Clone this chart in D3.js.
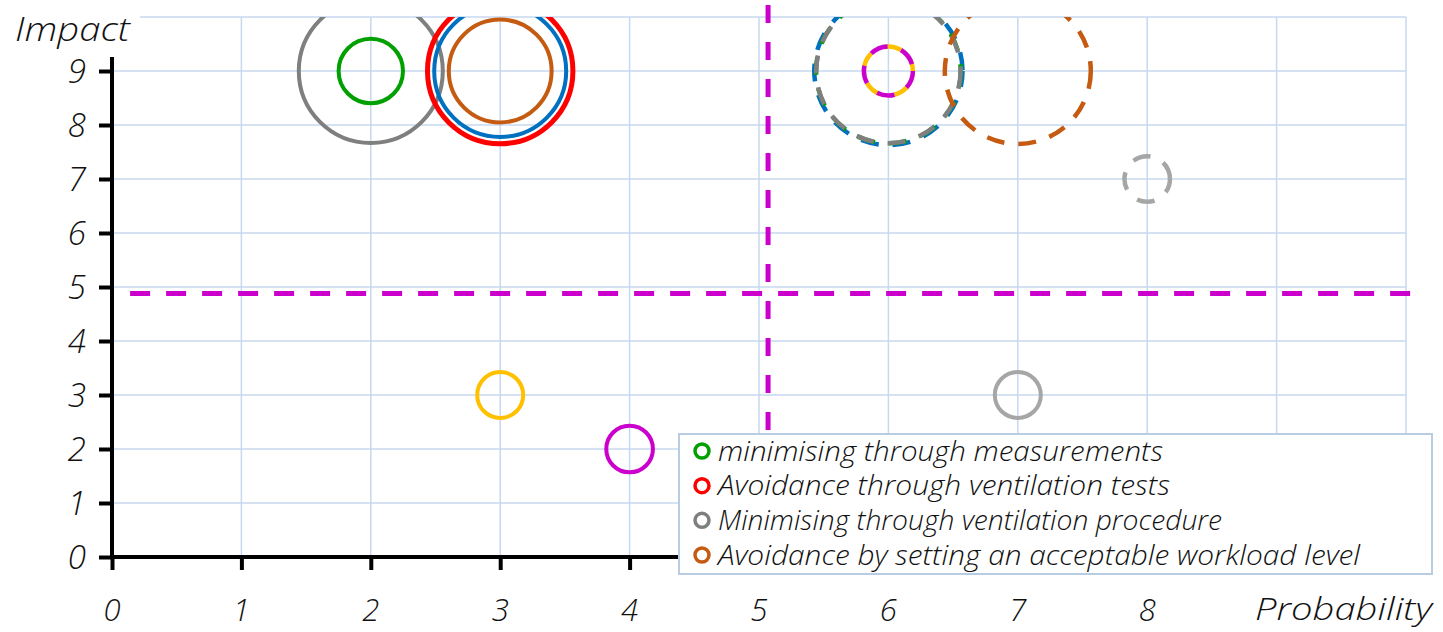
<!DOCTYPE html>
<html>
<head>
<meta charset="utf-8">
<script src="https://cdn.jsdelivr.net/npm/d3@7"></script>
<style>
  html, body { margin: 0; padding: 0; background: #fff; }
  svg { display: block; }
  text { font-family: "Open Sans", "Noto Sans", sans-serif; font-style: italic; font-weight: 300; fill: #111; }
</style>
</head>
<body>
<svg id="chart" width="1443" height="632"></svg>
<script>
// ---- data ----
const xTickValues = [0, 1, 2, 3, 4, 5, 6, 7, 8];
const yTickValues = [0, 1, 2, 3, 4, 5, 6, 7, 8, 9];
const gridValues = [1, 2, 3, 4, 5, 6, 7, 8, 9, 10];

// bubbles (drawn in this order)
const bubbleX      = [2, 2, 3, 3, 3, 3, 4, 7, 6, 6, 6, 6, 6, 7, 8];
const bubbleY      = [9, 9, 9, 9, 9, 3, 2, 3, 9, 9, 9, 9, 9, 9, 7];
const bubbleSize   = [10.0, 2.0, 10.2, 8.4, 5.1, 1.02, 1.05, 1.02, 10.6, 10.1, 10.05, 1.16, 1.16, 10.28, 1.0];
const bubbleColor  = ["#7f7f7f", "#00a000", "#ff0000", "#0070c0", "#c55a11", "#ffc000", "#cc00cc", "#a6a6a6",
                      "#0070c0", "#00a000", "#7f7f7f", "#ffc000", "#cc00cc", "#c55a11", "#a6a6a6"];
const bubbleDashed = [false, false, false, false, false, false, false, false,
                      true, true, true, true, true, true, true];
const bubbleDashOffset = [0, 0, 0, 0, 0, 0, 0, 0, 2, 1, 0, 18, 0, 0, 4];

// threshold lines (data coordinates)
const hLineX = [0.14, 10.12];
const hLineY = 4.88;
const vLineX = 5.07;
const vLineY = [10.22, 0];

const legendLabels = [
  "minimising through measurements",
  "Avoidance through ventilation tests",
  "Minimising through ventilation procedure",
  "Avoidance by setting an acceptable workload level"
];
const legendColors = ["#00a000", "#ff0000", "#7f7f7f", "#c55a11"];
const legendTextWidths = [445, 452, 504, 642];

// ---- layout ----
const svg = d3.select("#chart");
const x = d3.scaleLinear().domain([0, 10]).range([112, 1406]);
const y = d3.scaleLinear().domain([0, 10]).range([557, 17]);
const r = d3.scaleSqrt().domain([0, 10]).range([0, 72]);
const gridColor = "#c6d9f0";

// grid
const grid = svg.append("g");
grid.selectAll("line.v").data(gridValues).join("line")
  .attr("x1", d => x(d)).attr("x2", d => x(d))
  .attr("y1", y(10)).attr("y2", y(0))
  .attr("stroke", gridColor).attr("stroke-width", 1.5);
grid.selectAll("line.h").data(gridValues).join("line")
  .attr("x1", x(0)).attr("x2", x(10))
  .attr("y1", d => y(d)).attr("y2", d => y(d))
  .attr("stroke", gridColor).attr("stroke-width", 1.5);

// clip for bubbles
svg.append("clipPath").attr("id", "plotclip").append("rect")
  .attr("x", x(0)).attr("y", y(10)).attr("width", x(10) - x(0)).attr("height", y(0) - y(10));

// threshold lines
const magenta = "#cc00cc";
svg.append("line")
  .attr("x1", x(hLineX[0])).attr("x2", x(hLineX[1]))
  .attr("y1", y(hLineY)).attr("y2", y(hLineY))
  .attr("stroke", magenta).attr("stroke-width", 5).attr("stroke-dasharray", "20 16");
svg.append("line")
  .attr("x1", x(vLineX)).attr("x2", x(vLineX))
  .attr("y1", y(vLineY[0])).attr("y2", y(vLineY[1]))
  .attr("stroke", magenta).attr("stroke-width", 5).attr("stroke-dasharray", "18 19");

// bubbles
const bubbles = bubbleX.map((d, i) => ({x: d, y: bubbleY[i], s: bubbleSize[i], c: bubbleColor[i], dashed: bubbleDashed[i], off: bubbleDashOffset[i]}));
svg.append("g").attr("clip-path", "url(#plotclip)")
  .selectAll("circle").data(bubbles).join("circle")
  .attr("cx", d => x(d.x)).attr("cy", d => y(d.y)).attr("r", d => r(d.s))
  .attr("fill", "none").attr("stroke", d => d.c)
  .attr("stroke-width", d => d.dashed ? 4.5 : (d.c === "#ff0000" ? 5 : 4))
  .attr("stroke-dasharray", d => d.dashed ? "18 14" : null)
  .attr("stroke-dashoffset", d => d.off);

// axes
const yAxis = svg.append("g").attr("transform", `translate(${x(0)},0)`)
  .call(d3.axisLeft(y).tickValues(yTickValues).tickSize(13).tickFormat(""));
const xAxis = svg.append("g").attr("transform", `translate(0,${y(0)})`)
  .call(d3.axisBottom(x).tickValues(xTickValues.concat([9, 10])).tickSize(13).tickFormat(""));
[yAxis, xAxis].forEach(g => {
  g.selectAll("path").attr("stroke", "#000").attr("stroke-width", 4);
  g.selectAll("line").attr("stroke", "#000").attr("stroke-width", 4);
});
yAxis.select("path").attr("d", `M0,${y(10)}V${y(0) + 2}`);
xAxis.select("path").attr("d", `M${x(0) - 2},0H${x(10)}`);

// tick labels
svg.append("g").selectAll("text").data(yTickValues).join("text")
  .attr("x", 86).attr("y", d => y(d)).attr("dy", "0.36em")
  .attr("text-anchor", "end").attr("font-size", 33).text(d => d);
svg.append("g").selectAll("text").data(xTickValues).join("text")
  .attr("x", d => x(d)).attr("y", 621)
  .attr("text-anchor", "middle").attr("font-size", 31).text(d => d);

// axis titles
svg.append("rect").attr("x", 0).attr("y", 0).attr("width", 140).attr("height", 57).attr("fill", "#fff");
svg.append("text").attr("x", 15).attr("y", 41).attr("font-size", 33)
  .attr("textLength", 115).attr("lengthAdjust", "spacingAndGlyphs").text("Impact");
svg.append("text").attr("x", 1255).attr("y", 620).attr("font-size", 31)
  .attr("textLength", 177).attr("lengthAdjust", "spacingAndGlyphs").text("Probability");

// legend
const lg = svg.append("g");
lg.append("rect").attr("x", 679).attr("y", 434).attr("width", 753).attr("height", 140)
  .attr("fill", "#fff").attr("stroke", "#b8cce4").attr("stroke-width", 2);
const rowY = d3.scaleLinear().domain([0, 3]).range([451, 555]);
const items = lg.selectAll("g.item").data(legendLabels).join("g")
  .attr("transform", (d, i) => `translate(0,${rowY(i)})`);
items.append("circle").attr("cx", 702).attr("cy", 0).attr("r", 7)
  .attr("fill", "none").attr("stroke", (d, i) => legendColors[i]).attr("stroke-width", 3.5);
items.append("text").attr("x", 718).attr("y", 0).attr("dy", "0.35em")
  .attr("font-size", 28)
  .attr("textLength", (d, i) => legendTextWidths[i]).attr("lengthAdjust", "spacingAndGlyphs")
  .text(d => d);
</script>
</body>
</html>
